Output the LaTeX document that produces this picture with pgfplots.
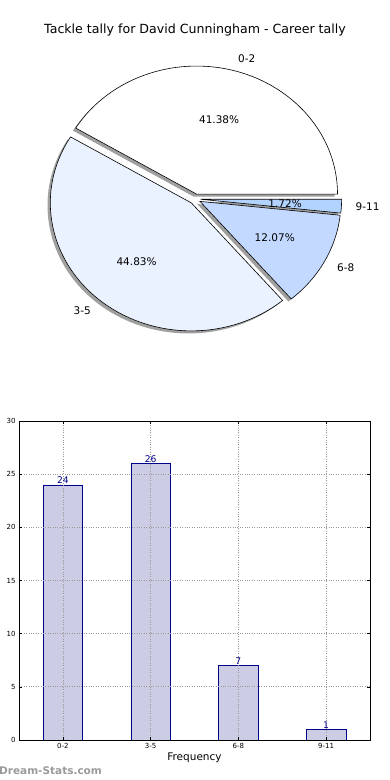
\documentclass[border=0pt]{standalone}
\usepackage{pgfplots}
\pgfplotsset{compat=1.18}
\usepackage{fontspec}
\setmainfont{DejaVu Sans}
\definecolor{pieA}{HTML}{FFFFFF}
\definecolor{pieB}{HTML}{EBF2FF}
\definecolor{pieC}{HTML}{C4D9FF}
\definecolor{pieD}{HTML}{B3D3FF}
\definecolor{barfill}{HTML}{CCCCE5}
\definecolor{baredge}{HTML}{00008B}
\definecolor{shadowgray}{HTML}{A0A0A0}
\definecolor{wmgray}{HTML}{9A9A9A}
% pie data (counts)
\def\vA{24}\def\vB{26}\def\vC{7}\def\vD{1}
\pgfmathsetmacro{\tot}{\vA+\vB+\vC+\vD}
\pgfmathsetmacro{\aA}{\vA/\tot*360}
\pgfmathsetmacro{\aB}{(\vA+\vB)/\tot*360}
\pgfmathsetmacro{\aC}{(\vA+\vB+\vC)/\tot*360}
\pgfmathsetmacro{\aD}{360}
\pgfmathsetmacro{\mA}{\aA/2}
\pgfmathsetmacro{\mB}{(\aA+\aB)/2}
\pgfmathsetmacro{\mC}{(\aB+\aC)/2}
\pgfmathsetmacro{\mD}{(\aC+\aD)/2}
\def\ex{0.04}
% #1 start, #2 end, #3 mid
\newcommand{\pieshadow}[3]{%
  \fill[shadowgray] ({\ex*cos(#3)-0.02},{\ex*sin(#3)-0.02}) -- ({\ex*cos(#3)-0.02+cos(#1)},{\ex*sin(#3)-0.02+sin(#1)}) arc[start angle=#1,end angle=#2,x radius=141pt,y radius=128pt] -- cycle;}
% #1 start, #2 end, #3 mid, #4 colour, #5 label, #6 pct, #7 anchor
\newcommand{\pieslice}[7]{%
  \filldraw[fill=#4,draw=black,line width=0.6pt] ({\ex*cos(#3)},{\ex*sin(#3)}) -- ({\ex*cos(#3)+cos(#1)},{\ex*sin(#3)+sin(#1)}) arc[start angle=#1,end angle=#2,x radius=141pt,y radius=128pt] -- cycle;
  \node[anchor=#7,inner sep=0pt,font=\fontsize{10.5}{12}\selectfont] at ({\ex*cos(#3)+1.1*cos(#3)},{\ex*sin(#3)+1.1*sin(#3)}) {#5};
  \node[inner sep=0pt,font=\fontsize{10.5}{12}\selectfont] at ({\ex*cos(#3)+0.6*cos(#3)},{\ex*sin(#3)+0.6*sin(#3)}) {#6};}
\begin{document}
\begin{tikzpicture}[x=1pt,y=1pt]
\path[use as bounding box, clip] (0,0) rectangle (390,780);
\node[font=\fontsize{12.6}{15}\selectfont] at (195,750) {Tackle tally for David Cunningham - Career tally};
% pie chart
\begin{axis}[at={(195pt,581pt)}, anchor=origin, x=141pt, y=128pt,
  xmin=-1.3, xmax=1.3, ymin=-1.3, ymax=1.3, hide axis, clip=false]
\pieshadow{0}{\aA}{\mA}
\pieshadow{\aA}{\aB}{\mB}
\pieshadow{\aB}{\aC}{\mC}
\pieshadow{\aC}{\aD}{\mD}
\pieslice{0}{\aA}{\mA}{pieA}{0-2}{41.38\%}{west}
\pieslice{\aA}{\aB}{\mB}{pieB}{3-5}{44.83\%}{east}
\pieslice{\aB}{\aC}{\mC}{pieC}{6-8}{12.07\%}{west}
\pieslice{\aC}{\aD}{\mD}{pieD}{9-11}{1.72\%}{west}
\end{axis}
% bar chart
\begin{axis}[at={(19pt,40pt)}, anchor=south west, width=351pt, height=319pt, scale only axis,
  xmin=-0.5, xmax=3.5, ymin=0, ymax=30,
  xtick={0,1,2,3}, xticklabels={0-2,3-5,6-8,9-11}, ytick={0,5,...,30},
  grid=major, grid style={dotted, gray!80, line width=0.7pt},
  axis on top, tick align=inside, major tick length=3pt,
  tick style={black, line width=0.5pt},
  axis line style={line width=0.8pt},
  tick label style={font=\fontsize{7}{8}\selectfont},
  /pgf/number format/assume math mode=true,
  xlabel={Frequency}, ylabel={Number of games},
  label style={font=\fontsize{10.5}{12}\selectfont},
  xlabel style={yshift=3pt},
  ylabel style={yshift=2pt},
  nodes near coords, nodes near coords style={font=\fontsize{9.2}{10}\selectfont, text=baredge, inner sep=1pt, anchor=south},
  ]
\addplot[ybar, bar width=0.45, fill=barfill, draw=baredge, line width=0.6pt] coordinates {(0,24) (1,26) (2,7) (3,1)};
\end{axis}
\node[anchor=west, inner sep=0pt, text=wmgray, font=\bfseries\fontsize{10.5}{12}\selectfont] at (-1,9) {Dream-Stats.com};
\end{tikzpicture}
\end{document}
